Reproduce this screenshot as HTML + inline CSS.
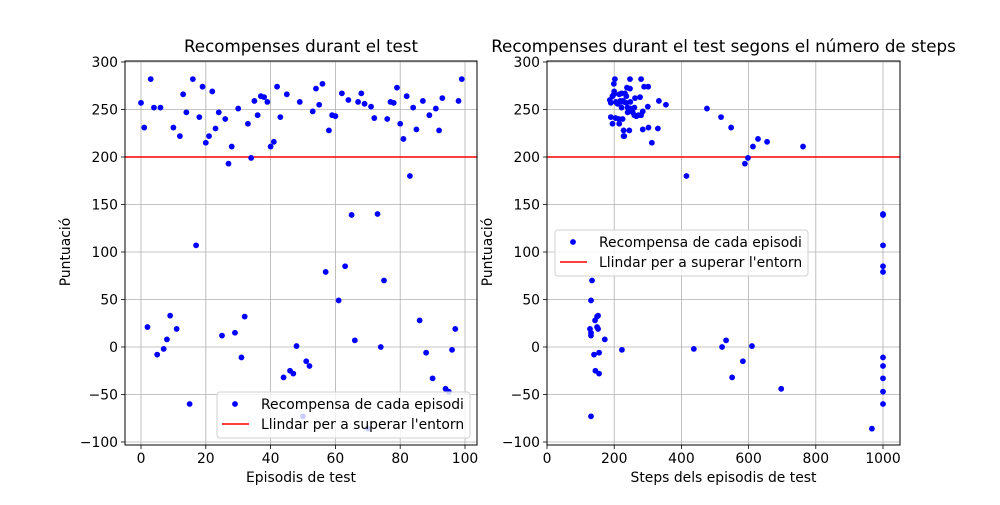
<!DOCTYPE html>
<html><head><meta charset="utf-8"><style>
body{margin:0;background:#fff}
svg text{font-family:"DejaVu Sans","Liberation Sans",sans-serif;fill:#000}
</style></head><body>
<svg id="fig" width="1000" height="500" viewBox="0 0 1000 500" xmlns="http://www.w3.org/2000/svg"></svg>
<script>
const rewards=[257,231,21,282,252,-8,252,-2,8,33,231,19,222,266,247,-60,282,107,242,274,215,222,269,230,247,12,240,193,211,15,251,-11,32,235,199,259,244,264,263,258,211,216,274,242,-32,266,-25,-28,1,258,-73,-15,-20,248,272,255,277,79,228,244,243,49,267,85,260,139,7,258,267,256,-86,253,241,140,0,70,240,258,257,273,235,219,264,180,252,229,28,259,-6,244,-33,251,228,262,-44,-47,-3,19,259,282];
const steps=[190,548,149,202,222,140,240,437,172,152,302,152,228,215,255,1000,247,1000,190,289,312,230,200,330,240,131,214,589,613,131,476,1000,149,195,598,333,260,236,277,205,762,655,301,518,551,199,144,155,610,230,131,583,1000,285,247,354,199,1000,245,272,266,131,222,1000,187,1000,533,220,232,210,967,300,204,1000,521,134,225,248,236,238,215,628,195,415,260,285,143,226,155,280,1000,248,228,262,697,1000,223,128,218,280];
const threshold=[200];
const yTicks=[-100,-50,0,50,100,150,200,250,300];
const xTicksL=[0,20,40,60,80,100];
const xTicksR=[0,200,400,600,800,1000];
const NS="http://www.w3.org/2000/svg";
const svg=document.getElementById('fig');
function mk(tag,attrs,parent,txt){const e=document.createElementNS(NS,tag);for(const k in attrs)e.setAttribute(k,attrs[k]);if(txt!==undefined)e.textContent=txt;(parent||svg).appendChild(e);return e;}
const Y=v=>442-(v+100)*0.95;
const TOP=61,BOT=445;
function axes(name,L,R,X,xticks,xs,title,xlabel,legendBox){
  const g=mk('g',{});
  
  
  xticks.forEach(t=>{const l=mk('line',{x1:X(t),x2:X(t),y1:TOP,y2:BOT,stroke:'#b0b0b0','stroke-width':0.8},g);
    
    mk('line',{x1:X(t),x2:X(t),y1:BOT,y2:BOT+4,stroke:'#000','stroke-width':0.8},g);
    const tx=mk('text',{x:X(t),y:BOT+18,'text-anchor':'middle','font-size':'13.9px'},g,String(t));
    });
  yTicks.forEach(t=>{const l=mk('line',{x1:L,x2:R,y1:Y(t),y2:Y(t),stroke:'#b0b0b0','stroke-width':0.8},g);
    
    mk('line',{x1:L-4,x2:L,y1:Y(t),y2:Y(t),stroke:'#000','stroke-width':0.8},g);
    const tx=mk('text',{x:L-7,y:Y(t)+5,'text-anchor':'end','font-size':'13.9px'},g,(t<0?'\u2212'+(-t):String(t)));
    });
  threshold.forEach(v=>{const l=mk('line',{x1:L,x2:R,y1:Y(v),y2:Y(v),stroke:'#ff0000','stroke-width':1.6},g);
    });
  xs.forEach((xv,i)=>{const c=mk('circle',{cx:X(xv),cy:Y(rewards[i]),r:2.9,fill:'#0000ff'},g);
    });
  const f=mk('rect',{x:L,y:TOP,width:R-L,height:BOT-TOP,fill:'none',stroke:'#000','stroke-width':1},g);
  
  const ti=mk('text',{x:(L+R)/2,y:52,'text-anchor':'middle','font-size':'16.7px'},g,title);
  
  const xl=mk('text',{x:(L+R)/2,y:482,'text-anchor':'middle','font-size':'13.9px'},g,xlabel);
  
  const yl=mk('text',{x:0,y:0,'text-anchor':'middle','font-size':'13.9px',transform:`translate(${L-55},252) rotate(-90)`},g,'Puntuació');
  
  const [bx,by]=legendBox;
  const lg=mk('g',{},g);
  
  mk('rect',{x:bx,y:by,width:253,height:46,rx:3,fill:'#fff','fill-opacity':0.8,stroke:'#d0d0d0'},lg);
  const m=mk('circle',{cx:bx+18,cy:by+12,r:2.9,fill:'#0000ff'},lg);
  
  const t1=mk('text',{x:bx+44,y:by+17,'font-size':'13.9px'},lg,'Recompensa de cada episodi');
  
  mk('line',{x1:bx+5,x2:bx+32,y1:by+32,y2:by+32,stroke:'#ff0000','stroke-width':1.6},lg);
  const t2=mk('text',{x:bx+44,y:by+37,'font-size':'13.9px'},lg,"Llindar per a superar l'entorn");
  
}
const XL=v=>141+3.24*v;
const XR=v=>547+0.336*v;
axes('left-chart',125,477,XL,xTicksL,rewards.map((_,i)=>i),'Recompenses durant el test','Episodis de test',[217,392]);
axes('right-chart',547,900,XR,xTicksR,steps,'Recompenses durant el test segons el número de steps','Steps dels episodis de test',[555,230]);
</script>
</body></html>
